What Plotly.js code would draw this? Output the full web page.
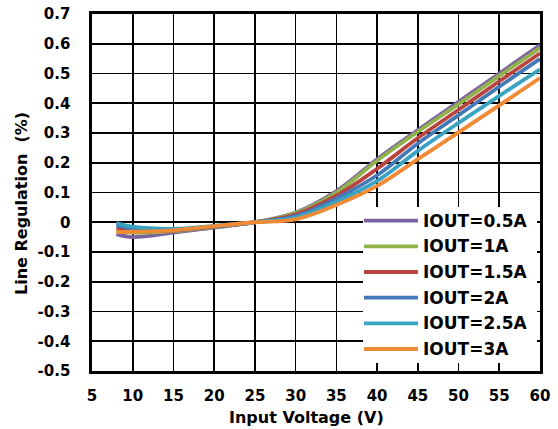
<!DOCTYPE html>
<html>
<head>
<meta charset="utf-8">
<script src="https://cdn.plot.ly/plotly-3.0.1.min.js"></script>
<style>html,body{margin:0;padding:0;background:#fff;}#chart{width:558px;height:429px;}</style>
</head>
<body>
<div id="chart"></div>
<script>
// ---- data ----
const inputVoltage = [8, 10, 15, 20, 25, 30, 35, 40, 45, 50, 55, 60];
const seriesNames = ["IOUT=0.5A", "IOUT=1A", "IOUT=1.5A", "IOUT=2A", "IOUT=2.5A", "IOUT=3A"];
const iout05 = [-0.040, -0.050, -0.035, -0.018, 0.000, 0.033, 0.105, 0.212, 0.310, 0.405, 0.500, 0.596];
const iout1  = [-0.028, -0.035, -0.030, -0.016, 0.000, 0.031, 0.100, 0.207, 0.304, 0.397, 0.492, 0.586];
const iout15 = [-0.018, -0.028, -0.028, -0.015, 0.000, 0.026, 0.089, 0.180, 0.283, 0.378, 0.474, 0.568];
const iout2  = [-0.010, -0.022, -0.026, -0.014, 0.000, 0.021, 0.080, 0.158, 0.265, 0.360, 0.456, 0.549];
const iout25 = [-0.003, -0.015, -0.022, -0.012, 0.000, 0.016, 0.069, 0.139, 0.240, 0.334, 0.425, 0.514];
const iout3  = [-0.033, -0.032, -0.027, -0.013, 0.000, 0.010, 0.058, 0.122, 0.212, 0.302, 0.393, 0.485];
const xTickVals = [5, 10, 15, 20, 25, 30, 35, 40, 45, 50, 55, 60];
const xTickLabels = ["5", "10", "15", "20", "25", "30", "35", "40", "45", "50", "55", "60"];
const yTickVals = [-0.5, -0.4, -0.3, -0.2, -0.1, 0, 0.1, 0.2, 0.3, 0.4, 0.5, 0.6, 0.7];
const yTickLabels = ["-0.5", "-0.4", "-0.3", "-0.2", "-0.1", "0", "0.1", "0.2", "0.3", "0.4", "0.5", "0.6", "0.7"];
const xTitle = "Input Voltage (V)";
const yTitle = "Line Regulation \u00a0(%)";

// ---- style ----
const colors = ["#7D62A1", "#90B24C", "#B9433F", "#4479B8", "#3BA3C2", "#F08A35"];
const allSeries = [iout05, iout1, iout15, iout2, iout25, iout3];
const FONT = "DejaVu Sans";

const W = 558, H = 429;
const M = {l: 92, r: 18, t: 14, b: 58};
const pw = W - M.l - M.r, ph = H - M.t - M.b;
const px = v => (v - M.l) / pw;
const py = v => (H - M.b - v) / ph;

const traces = allSeries.map((ys, i) => ({
  type: "scatter", mode: "lines",
  x: inputVoltage, y: ys, name: seriesNames[i],
  line: {color: colors[i], width: 3.8, shape: "spline", smoothing: 1},
  showlegend: false, hoverinfo: "skip"
}));

const shapes = [{
  type: "rect", xref: "paper", yref: "paper",
  x0: px(363), x1: px(537), y0: py(363), y1: py(207),
  fillcolor: "#ffffff", line: {width: 0}, layer: "above"
}];
const annotations = [];
const rowY = [220.7, 246.3, 272, 297.7, 323.3, 349];
seriesNames.forEach((n, i) => {
  shapes.push({
    type: "line", xref: "paper", yref: "paper",
    x0: px(364), x1: px(418), y0: py(rowY[i]), y1: py(rowY[i]),
    line: {color: colors[i], width: 3.8}, layer: "above"
  });
  annotations.push({
    xref: "paper", yref: "paper", x: px(421), y: py(rowY[i]),
    xanchor: "left", yanchor: "middle", showarrow: false,
    text: "<b>" + n + "</b>", font: {family: FONT, size: 17, color: "#000"}
  });
});
annotations.push({
  xref: "paper", yref: "paper", x: px(306.5), y: py(417),
  xanchor: "center", yanchor: "middle", showarrow: false,
  text: "<b>" + xTitle + "</b>", font: {family: FONT, size: 16, color: "#000"}
});
annotations.push({
  xref: "paper", yref: "paper", x: px(21), y: py(204),
  xanchor: "center", yanchor: "middle", showarrow: false, textangle: -90,
  text: "<b>" + yTitle + "</b>", font: {family: FONT, size: 16, color: "#000"}
});

const layout = {
  width: W, height: H,
  margin: M,
  paper_bgcolor: "#fff", plot_bgcolor: "#fff",
  showlegend: false,
  font: {family: FONT, size: 15, color: "#000"},
  xaxis: {
    range: [5, 60], tickvals: xTickVals, ticktext: xTickLabels.map(t => "<b>" + t + "</b>"),
    showgrid: true, gridcolor: "#000", gridwidth: 1.6, zeroline: false,
    showline: true, mirror: true, linecolor: "#000", linewidth: 2.6,
    ticks: "", ticklabelstandoff: 9,
    tickfont: {family: FONT, size: 15, color: "#000"}
  },
  yaxis: {
    range: [-0.5, 0.7], tickvals: yTickVals, ticktext: yTickLabels.map(t => "<b>" + t + "</b>"),
    showgrid: true, gridcolor: "#000", gridwidth: 1.6, zeroline: false,
    showline: true, mirror: true, linecolor: "#000", linewidth: 2.6,
    ticks: "", ticklabelstandoff: 16,
    tickfont: {family: FONT, size: 15, color: "#000"}
  },
  shapes: shapes,
  annotations: annotations
};

Plotly.newPlot("chart", traces, layout, {staticPlot: true, displayModeBar: false});
</script>
</body>
</html>
